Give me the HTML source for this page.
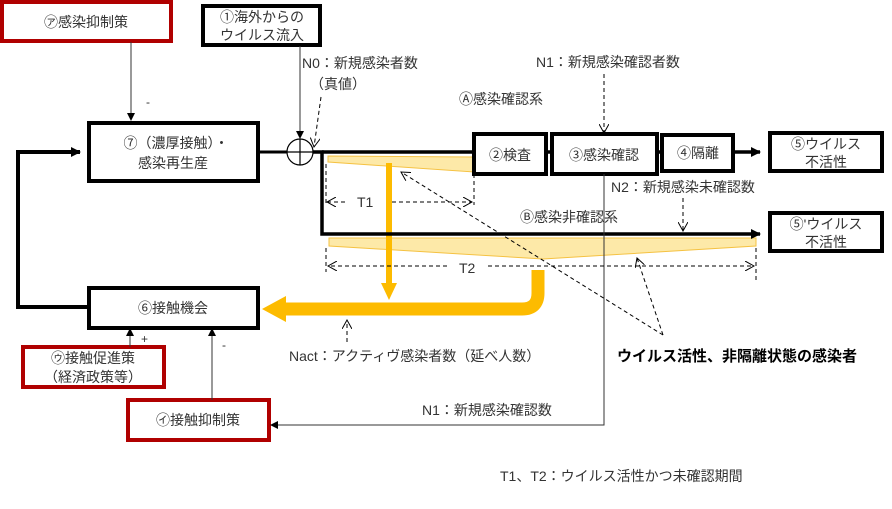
<!DOCTYPE html>
<html><head><meta charset="utf-8"><style>
body{margin:0;background:#fff;}
svg{display:block;font-family:"Liberation Sans","Noto Sans CJK JP",sans-serif;}
</style></head><body>
<svg width="892" height="509" viewBox="0 0 892 509" xmlns="http://www.w3.org/2000/svg">
<defs>
<marker id="ab" markerWidth="10" markerHeight="10" refX="9" refY="5" orient="auto" markerUnits="userSpaceOnUse"><path d="M0,0 L10,5 L0,10 z" fill="#000"/></marker>
<marker id="as" markerWidth="8" markerHeight="8" refX="7" refY="4" orient="auto" markerUnits="userSpaceOnUse"><path d="M0,0 L8,4 L0,8 z" fill="#000"/></marker>
<marker id="ao" markerWidth="10" markerHeight="10" refX="9" refY="5" orient="auto" markerUnits="userSpaceOnUse"><path d="M0,0 L9,5 L0,10" fill="none" stroke="#000" stroke-width="1"/></marker>
</defs>
<g font-size="14" fill="#333">
<!-- yellow wedges -->
<polygon points="328,156 474,157 474,172 328,162" fill="#fde9a8" stroke="#f5c242" stroke-width="1"/>
<polygon points="329,238 756,238 756,246 543,259 329,246" fill="#fde9a8" stroke="#f5c242" stroke-width="1"/>
<!-- yellow arrows -->
<line x1="389" y1="163" x2="389" y2="285" stroke="#fdbb00" stroke-width="6"/>
<polygon points="381,283 397,283 389,300" fill="#fdbb00"/>
<path d="M538,270 L538,293 Q538,309 522,309 L283,309" fill="none" stroke="#fdbb00" stroke-width="13"/>
<polygon points="286,296 286,322 262,309" fill="#fdbb00"/>
<!-- boxes -->
<rect x="2" y="2" width="169" height="39" fill="#fff" stroke="#b00000" stroke-width="4"/>
<text x="86" y="27" text-anchor="middle">㋐感染抑制策</text>
<rect x="203" y="6" width="117" height="39" fill="#fff" stroke="#000" stroke-width="4"/>
<text x="262" y="22" text-anchor="middle">①海外からの</text>
<text x="262" y="40" text-anchor="middle">ウイルス流入</text>
<rect x="89" y="123" width="169" height="58" fill="#fff" stroke="#000" stroke-width="4"/>
<text x="176" y="148" text-anchor="middle">⑦（濃厚接触）・</text>
<text x="173" y="168" text-anchor="middle">感染再生産</text>
<rect x="474" y="134" width="72" height="40" fill="#fff" stroke="#000" stroke-width="4"/>
<text x="510" y="160" text-anchor="middle">②検査</text>
<rect x="552" y="134" width="105" height="40" fill="#fff" stroke="#000" stroke-width="4"/>
<text x="604" y="160" text-anchor="middle">③感染確認</text>
<rect x="662" y="135" width="71" height="36" fill="#fff" stroke="#000" stroke-width="4"/>
<text x="698" y="158" text-anchor="middle">④隔離</text>
<rect x="770" y="133" width="112" height="38" fill="#fff" stroke="#000" stroke-width="4"/>
<text x="826" y="149" text-anchor="middle">⑤ウイルス</text>
<text x="826" y="167" text-anchor="middle">不活性</text>
<rect x="770" y="213" width="112" height="38" fill="#fff" stroke="#000" stroke-width="4"/>
<text x="826" y="229" text-anchor="middle">⑤'ウイルス</text>
<text x="826" y="247" text-anchor="middle">不活性</text>
<rect x="89" y="288" width="169" height="40" fill="#fff" stroke="#000" stroke-width="4"/>
<text x="173" y="313" text-anchor="middle">⑥接触機会</text>
<rect x="23" y="347" width="141" height="40" fill="#fff" stroke="#b00000" stroke-width="4"/>
<text x="93" y="363" text-anchor="middle">㋒接触促進策</text>
<text x="93" y="382" text-anchor="middle">（経済政策等）</text>
<rect x="128" y="400" width="141" height="40" fill="#fff" stroke="#b00000" stroke-width="4"/>
<text x="198" y="425" text-anchor="middle">㋑接触抑制策</text>
<!-- main lines -->
<line x1="258" y1="152" x2="287" y2="152" stroke="#000" stroke-width="3"/>
<circle cx="300" cy="152" r="13" fill="#fff" stroke="#000" stroke-width="1.2"/>
<line x1="300" y1="139" x2="300" y2="165" stroke="#000" stroke-width="1.2"/>
<line x1="287" y1="152" x2="313" y2="152" stroke="#000" stroke-width="1.2"/>
<polyline points="313,152 322,152 322,234 760,234" fill="none" stroke="#000" stroke-width="3.5" marker-end="url(#ab)"/>
<line x1="322" y1="152" x2="474" y2="152" stroke="#000" stroke-width="3.5"/>
<line x1="546" y1="152" x2="552" y2="152" stroke="#000" stroke-width="3.5"/>
<line x1="657" y1="152" x2="662" y2="152" stroke="#000" stroke-width="3.5"/>
<line x1="733" y1="152" x2="760" y2="152" stroke="#000" stroke-width="3.5" marker-end="url(#ab)"/>
<polyline points="89,307 18,307 18,152 80,152" fill="none" stroke="#000" stroke-width="4" marker-end="url(#ab)"/>
<!-- thin arrows -->
<line x1="131" y1="42" x2="131" y2="120" stroke="#333" stroke-width="1" marker-end="url(#as)"/>
<text x="146" y="106" font-size="12">-</text>
<line x1="300" y1="46" x2="300" y2="138" stroke="#333" stroke-width="1" marker-end="url(#as)"/>
<line x1="130" y1="347" x2="130" y2="329" stroke="#333" stroke-width="1" marker-end="url(#as)"/>
<text x="141" y="343" font-size="12">+</text>
<line x1="212" y1="400" x2="212" y2="329" stroke="#333" stroke-width="1" marker-end="url(#as)"/>
<text x="222" y="349" font-size="12">-</text>
<polyline points="604,174 604,425 271,425" fill="none" stroke="#333" stroke-width="1" marker-end="url(#as)"/>
<!-- dashed -->
<g stroke="#000" stroke-width="1" stroke-dasharray="4,3" fill="none">
<line x1="321" y1="97" x2="314" y2="147" marker-end="url(#ao)"/>
<line x1="604" y1="74" x2="604" y2="133" marker-end="url(#ao)"/>
<line x1="683" y1="198" x2="683" y2="231" marker-end="url(#ao)"/>
<line x1="347" y1="342" x2="347" y2="320" marker-end="url(#ao)"/>
<line x1="663" y1="335" x2="401" y2="172" marker-end="url(#ao)"/>
<line x1="663" y1="335" x2="637" y2="258" marker-end="url(#ao)"/>
<line x1="326" y1="164" x2="326" y2="205"/>
<line x1="474" y1="174" x2="474" y2="205"/>
<line x1="345" y1="202" x2="327" y2="202" marker-end="url(#ao)"/>
<line x1="392" y1="202" x2="472" y2="202" marker-end="url(#ao)"/>
<line x1="326" y1="248" x2="326" y2="272"/>
<line x1="756" y1="248" x2="756" y2="283"/>
<line x1="447" y1="266" x2="328" y2="266" marker-end="url(#ao)"/>
<line x1="488" y1="266" x2="754" y2="266" marker-end="url(#ao)"/>
</g>
<!-- labels -->
<text x="302" y="68">N0：新規感染者数</text>
<text x="310" y="89">（真値）</text>
<text x="536" y="67">N1：新規感染確認者数</text>
<text x="459" y="104">Ⓐ感染確認系</text>
<text x="611" y="192">N2：新規感染未確認数</text>
<text x="520" y="222">Ⓑ感染非確認系</text>
<text x="357" y="207">T1</text>
<text x="459" y="273">T2</text>
<text x="289" y="361">Nact：アクティヴ感染者数（延べ人数）</text>
<text x="617" y="361" font-weight="bold" fill="#000" font-size="15">ウイルス活性、非隔離状態の感染者</text>
<text x="422" y="415">N1：新規感染確認数</text>
<text x="500" y="481">T1、T2：ウイルス活性かつ未確認期間</text>
</g>
</svg>
</body></html>
